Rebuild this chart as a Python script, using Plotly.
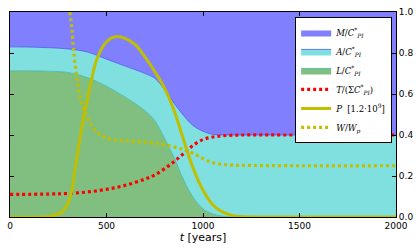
import plotly.graph_objects as go

# ---- data ----
t_area = [0, 100, 200, 300, 400, 500, 600, 700, 750, 800, 850, 900, 950, 1000,
          1050, 1100, 1150, 1200, 1500, 2000]
L_vals = [0.713, 0.713, 0.711, 0.705, 0.680, 0.638, 0.583, 0.518, 0.470, 0.385,
          0.290, 0.180, 0.095, 0.040, 0.015, 0.004, 0.0, 0.0, 0.0, 0.0]
A_vals = [0.117, 0.116, 0.115, 0.115, 0.125, 0.132, 0.152, 0.182, 0.207, 0.237,
          0.265, 0.314, 0.350, 0.378, 0.388, 0.396, 0.400, 0.400, 0.400, 0.400]
M_vals = [0.170, 0.171, 0.174, 0.180, 0.195, 0.230, 0.265, 0.300, 0.323, 0.378,
          0.445, 0.506, 0.555, 0.582, 0.597, 0.600, 0.600, 0.600, 0.600, 0.600]

t_T = [0, 200, 300, 400, 500, 600, 700, 750, 800, 850, 900, 950, 1000, 1050,
       1100, 1150, 1200, 1500, 2000]
T_vals = [0.110, 0.112, 0.115, 0.122, 0.135, 0.155, 0.185, 0.205, 0.235, 0.270,
          0.310, 0.350, 0.378, 0.390, 0.396, 0.399, 0.400, 0.400, 0.400]

t_P = [0, 200, 250, 270, 300, 320, 340, 360, 380, 400, 420, 450, 500, 550, 600,
       650, 700, 750, 800, 850, 900, 950, 1000, 1050, 1100, 1150, 1200, 1300, 2000]
P_vals = [0.0, 0.003, 0.015, 0.025, 0.065, 0.13, 0.25, 0.37, 0.48, 0.57, 0.66,
          0.77, 0.855, 0.88, 0.87, 0.84, 0.78, 0.71, 0.63, 0.52, 0.375, 0.235,
          0.13, 0.06, 0.025, 0.008, 0.002, 0.0, 0.0]

t_W = [310, 320, 330, 345, 360, 380, 410, 450, 500, 550, 600, 700, 800, 900,
       950, 1000, 1050, 1100, 1150, 1200, 1500, 2000]
W_vals = [1.0, 0.92, 0.81, 0.69, 0.60, 0.53, 0.465, 0.415, 0.385, 0.375, 0.372,
          0.365, 0.353, 0.328, 0.31, 0.285, 0.265, 0.257, 0.253, 0.252, 0.25, 0.25]

x_ticks = [0, 500, 1000, 1500, 2000]
y_ticks = [0.0, 0.2, 0.4, 0.6, 0.8, 1.0]

lab = lambda s: "<i>%s</i>/<i>C</i><sup>*</sup><sub><i>PI</i></sub>" % s

fig = go.Figure()
fig.add_trace(go.Scatter(x=t_area, y=L_vals, stackgroup="s", name=lab("L"),
                         line=dict(color="#3cb8a8", width=0.8, shape="spline"),
                         fillcolor="#80bf80", legendrank=3))
fig.add_trace(go.Scatter(x=t_area, y=A_vals, stackgroup="s", name=lab("A"),
                         line=dict(color="#4a5cf0", width=0.8, shape="spline"),
                         fillcolor="#80dfdf", legendrank=2))
fig.add_trace(go.Scatter(x=t_area, y=M_vals, stackgroup="s", name=lab("M"),
                         line=dict(color="#8080ff", width=0, shape="spline"),
                         fillcolor="#8080ff", legendrank=1))
fig.add_trace(go.Scatter(x=t_T, y=T_vals, mode="lines",
                         name="<i>T</i>/(Σ<i>C</i><sup>*</sup><sub><i>PI</i></sub>)",
                         line=dict(color="#ff0000", width=3.2, dash="3px,3px",
                                   shape="spline"), legendrank=4))
fig.add_trace(go.Scatter(x=t_P, y=P_vals, mode="lines",
                         name="<i>P</i>  [1.2·10<sup>9</sup>]",
                         line=dict(color="#bfbf00", width=3, shape="spline"),
                         legendrank=5))
fig.add_trace(go.Scatter(x=t_W, y=W_vals, mode="lines",
                         name="<i>W</i>/<i>W</i><sub><i>p</i></sub>",
                         line=dict(color="#bfbf00", width=3.2, dash="3px,3px",
                                   shape="spline"), legendrank=6))

axis_common = dict(showline=True, linecolor="black", linewidth=1, mirror="ticks",
                   ticks="inside", ticklen=4, tickcolor="black", showgrid=False,
                   zeroline=False, tickfont=dict(family="DejaVu Sans", size=9,
                                                 color="black"))
fig.update_xaxes(range=[0, 2000], tickvals=x_ticks,
                 title=dict(text="<i>t</i> [years]", standoff=2,
                            font=dict(family="DejaVu Sans", size=11, color="black")),
                 **axis_common)
fig.update_yaxes(range=[0, 1], tickvals=y_ticks, tickformat=".1f", side="right",
                 **axis_common)

fig.update_layout(
    width=420, height=249,
    margin=dict(l=7, r=20, t=8, b=32),
    paper_bgcolor="white", plot_bgcolor="white",
    showlegend=True,
    legend=dict(x=0.99, y=0.976, xanchor="right", yanchor="top",
                traceorder="normal",
                bgcolor="white", bordercolor="black", borderwidth=1,
                font=dict(family="DejaVu Serif", size=8.5, color="black"),
                tracegroupgap=0, itemwidth=30),
)

fig.write_html("out.html", config={"displayModeBar": False},
               post_script="document.body.style.margin='0px';"
                           "document.body.style.overflow='hidden';")
